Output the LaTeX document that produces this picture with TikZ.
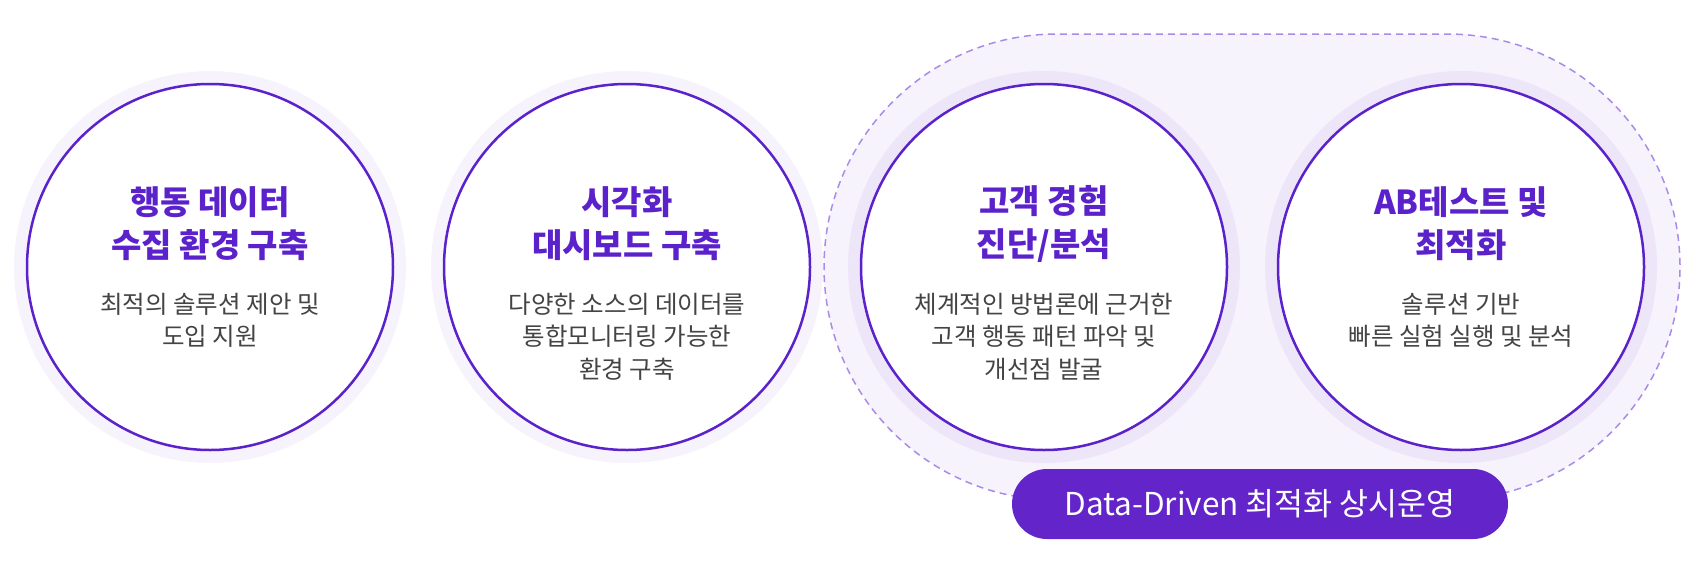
\documentclass[tikz,border=0pt]{standalone}
\usepackage{fontspec}
\setmainfont{Noto Sans CJK KR}
\usepackage{tikz}
\usepackage{xcolor}
\usetikzlibrary{shapes.misc}
\definecolor{Violet}{HTML}{5B22CC}
\definecolor{VioletBouton}{HTML}{6325C9}
\definecolor{Pointille}{HTML}{A98BE8}
\definecolor{FondClair}{HTML}{F6F3FD}
\definecolor{HaloClair}{HTML}{F6F3FC}
\definecolor{HaloMoyen}{HTML}{EDE6F9}
\definecolor{Gris}{HTML}{444444}
\tikzset{
Zone/.style={
 rounded rectangle, 
 fill=FondClair, 
 draw=Pointille, 
 line width=1.5pt, 
 dash pattern=on 7pt off 5pt, 
 minimum width=856pt, 
 minimum height=466pt, 
 inner sep=0pt
 },
Halo/.style={
 circle, 
 fill=HaloClair, 
 minimum size=392pt, 
 inner sep=0pt
 },
HaloFonce/.style={
 Halo, 
 fill=HaloMoyen
 },
Rond/.style={
 circle, 
 draw=Violet, 
 line width=2.5pt, 
 fill=white, 
 minimum size=366pt, 
 inner sep=0pt
 },
Titre/.style={
 text=Violet, 
 font=\fontsize{33}{43}\selectfont\bfseries, 
 align=center, 
 inner sep=0pt
 },
Texte/.style={
 text=Gris, 
 font=\fontsize{24.5}{32.5}\selectfont, 
 align=center, 
 anchor=north, 
 inner sep=0pt
 },
Bouton/.style={
 rounded rectangle, 
 fill=VioletBouton, 
 text=white, 
 font=\fontsize{31.5}{36}\selectfont, 
 minimum width=496pt, 
 minimum height=70pt, 
 inner sep=0pt
 }
}

\begin{document}
\begin{tikzpicture}[x=1pt,y=-1pt]
\useasboundingbox (0,0) rectangle (1694,565);
\node[Zone] (zone) at (1252,267) {};
\node[Halo] (halo1) at (210,267) {};
\node[Halo] (halo2) at (627,267) {};
\node[HaloFonce] (halo3) at (1044,267) {};
\node[HaloFonce] (halo4) at (1461,267) {};
\node[Rond] (rond1) at (210,267) {};
\node[Rond] (rond2) at (627,267) {};
\node[Rond] (rond3) at (1044,267) {};
\node[Rond] (rond4) at (1461,267) {};
\node[Titre] (titre1) at (210,224) {행동 데이터\\수집 환경 구축};
\node[Titre] (titre2) at (627,224) {시각화\\대시보드 구축};
\node[Titre] (titre3) at (1044,224) {고객 경험\\진단/분석};
\node[Titre] (titre4) at (1461,224) {AB테스트 및\\최적화};
\node[Texte] (texte1) at (210,293) {최적의 솔루션 제안 및\\도입 지원};
\node[Texte] (texte2) at (627,293) {다양한 소스의 데이터를\\통합모니터링 가능한\\환경 구축};
\node[Texte] (texte3) at (1044,293) {체계적인 방법론에 근거한\\고객 행동 패턴 파악 및\\개선점 발굴};
\node[Texte] (texte4) at (1461,293) {솔루션 기반\\빠른 실험 실행 및 분석};
\node[Bouton] (bouton) at (1260,504) {Data-Driven 최적화 상시운영};
\end{tikzpicture}
\end{document}
